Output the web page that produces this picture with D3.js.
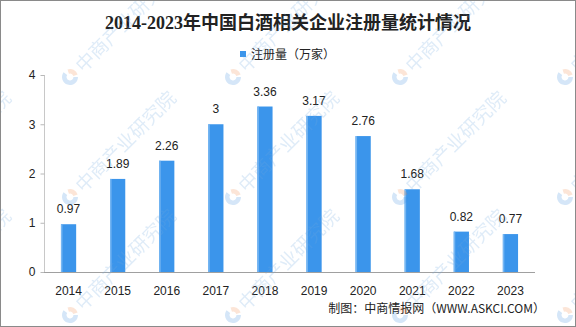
<!DOCTYPE html>
<html>
<head>
<meta charset="utf-8">
<script src="https://cdn.jsdelivr.net/npm/d3@7"></script>
<style>
  html, body { margin: 0; padding: 0; background: #fff; }
  svg { display: block; }
</style>
</head>
<body>
<svg id="chart" width="576" height="327"></svg>
<script>
// Registered baijiu-related enterprises per year (10k firms)
const years = ["2014", "2015", "2016", "2017", "2018", "2019", "2020", "2021", "2022", "2023"];
const registrations = [0.97, 1.89, 2.26, 3, 3.36, 3.17, 2.76, 1.68, 0.82, 0.77];
const valueLabels = ["0.97", "1.89", "2.26", "3", "3.36", "3.17", "2.76", "1.68", "0.82", "0.77"];
const yTicks = [0, 1, 2, 3, 4];

const titleText = "2014-2023年中国白酒相关企业注册量统计情况";
const legendText = "注册量（万家）";
const sourceText = "制图：中商情报网（WWW.ASKCI.COM）";
const watermarkText = "中商产业研究院";

const W = 576, H = 327;
const svg = d3.select("#chart");
const latin = "'Liberation Sans', Arial, 'Noto Sans CJK SC', sans-serif";
const cjk = "'Noto Sans CJK SC', 'Liberation Sans', sans-serif";

svg.append("rect").attr("width", W).attr("height", H).attr("fill", "#fff");

const x = d3.scaleBand()
  .domain(years)
  .range([44, 535])
  .paddingInner(0.69)
  .paddingOuter(0.345);

const y = d3.scaleLinear().domain([0, 4]).range([272, 75]);

// y axis: light line with short ticks on the left
const yAxis = svg.append("g")
  .attr("transform", "translate(44.5,0)")
  .call(d3.axisLeft(y).tickValues(yTicks).tickSize(4).tickPadding(5).tickFormat(d3.format("d")));
yAxis.select(".domain").attr("stroke", "#c8c8c8").attr("d", `M0,${y(4)}V${y(0)}`);
yAxis.selectAll(".tick line").attr("stroke", "#b8b8b8");
yAxis.selectAll(".tick text")
  .attr("font-family", latin).attr("font-size", 12).attr("fill", "#222");

// x axis: baseline without tick marks
const xAxis = svg.append("g")
  .attr("transform", "translate(0,272.5)")
  .call(d3.axisBottom(x).tickSize(0).tickPadding(14));
xAxis.select(".domain").attr("stroke", "#a0a0a0").attr("d", "M44,0H535");
xAxis.selectAll(".tick text")
  .attr("font-family", latin).attr("font-size", 12).attr("fill", "#222");

// bars
const bars = svg.append("g");
bars.selectAll("rect.bar")
  .data(registrations)
  .join("rect")
  .attr("class", "bar")
  .attr("x", (d, i) => x(years[i]))
  .attr("y", d => y(d))
  .attr("width", x.bandwidth())
  .attr("height", d => y(0) - y(d))
  .attr("fill", "#3b95eb");
bars.selectAll("rect.edge")
  .data(registrations)
  .join("rect")
  .attr("class", "edge")
  .attr("x", (d, i) => x(years[i]))
  .attr("y", d => y(d))
  .attr("width", 1.5)
  .attr("height", d => y(0) - y(d))
  .attr("fill", "#76b6f2");

// value labels
svg.append("g").selectAll("text")
  .data(registrations)
  .join("text")
  .attr("x", (d, i) => x(years[i]) + x.bandwidth() / 2)
  .attr("y", d => y(d) - 11)
  .attr("text-anchor", "middle")
  .attr("font-family", latin)
  .attr("font-size", 12)
  .attr("fill", "#222")
  .text((d, i) => valueLabels[i]);

// title
svg.append("text")
  .attr("x", 288).attr("y", 29)
  .attr("text-anchor", "middle")
  .attr("font-family", "'Liberation Serif', 'Noto Sans CJK SC', serif")
  .attr("font-weight", "bold")
  .attr("font-size", 18)
  .attr("fill", "#222")
  .text(titleText);

// legend
svg.append("rect")
  .attr("x", 240).attr("y", 51).attr("width", 6).attr("height", 6)
  .attr("fill", "#3b95eb");
svg.append("text")
  .attr("x", 251).attr("y", 58.5)
  .attr("font-family", cjk)
  .attr("font-size", 12)
  .attr("fill", "#222")
  .text(legendText);

// source note
svg.append("text")
  .attr("x", 545).attr("y", 313)
  .attr("text-anchor", "end")
  .attr("font-family", cjk)
  .attr("font-size", 12)
  .attr("fill", "#222")
  .text(sourceText);

// repeated diagonal brand watermark
const wmCols = [-95, 70, 233, 400, 565];
const wmRows = [77, 197, 315];
const wm = svg.append("g").attr("opacity", 0.22).attr("pointer-events", "none");
const ring = d3.arc().innerRadius(3.5).outerRadius(8);
wmRows.forEach(r => wmCols.forEach(c => {
  const g = wm.append("g").attr("transform", `translate(${c},${r}) rotate(-45)`);
  g.append("path").attr("d", ring({startAngle: Math.PI * 0.75, endAngle: Math.PI * 1.95})).attr("fill", "#3f8ede");
  g.append("path").attr("d", ring({startAngle: Math.PI * 0.15, endAngle: Math.PI * 0.65})).attr("fill", "#f08a4b");
  g.append("text")
    .attr("x", 12).attr("y", 7)
    .attr("font-family", cjk)
    .attr("font-size", 19)
    .attr("fill", "#6fa8df")
    .text(watermarkText);
}));

// outer frame
svg.append("rect")
  .attr("x", 0.5).attr("y", 0.5).attr("width", W - 1).attr("height", H - 1)
  .attr("fill", "none").attr("stroke", "#8a8a8a");
</script>
</body>
</html>
